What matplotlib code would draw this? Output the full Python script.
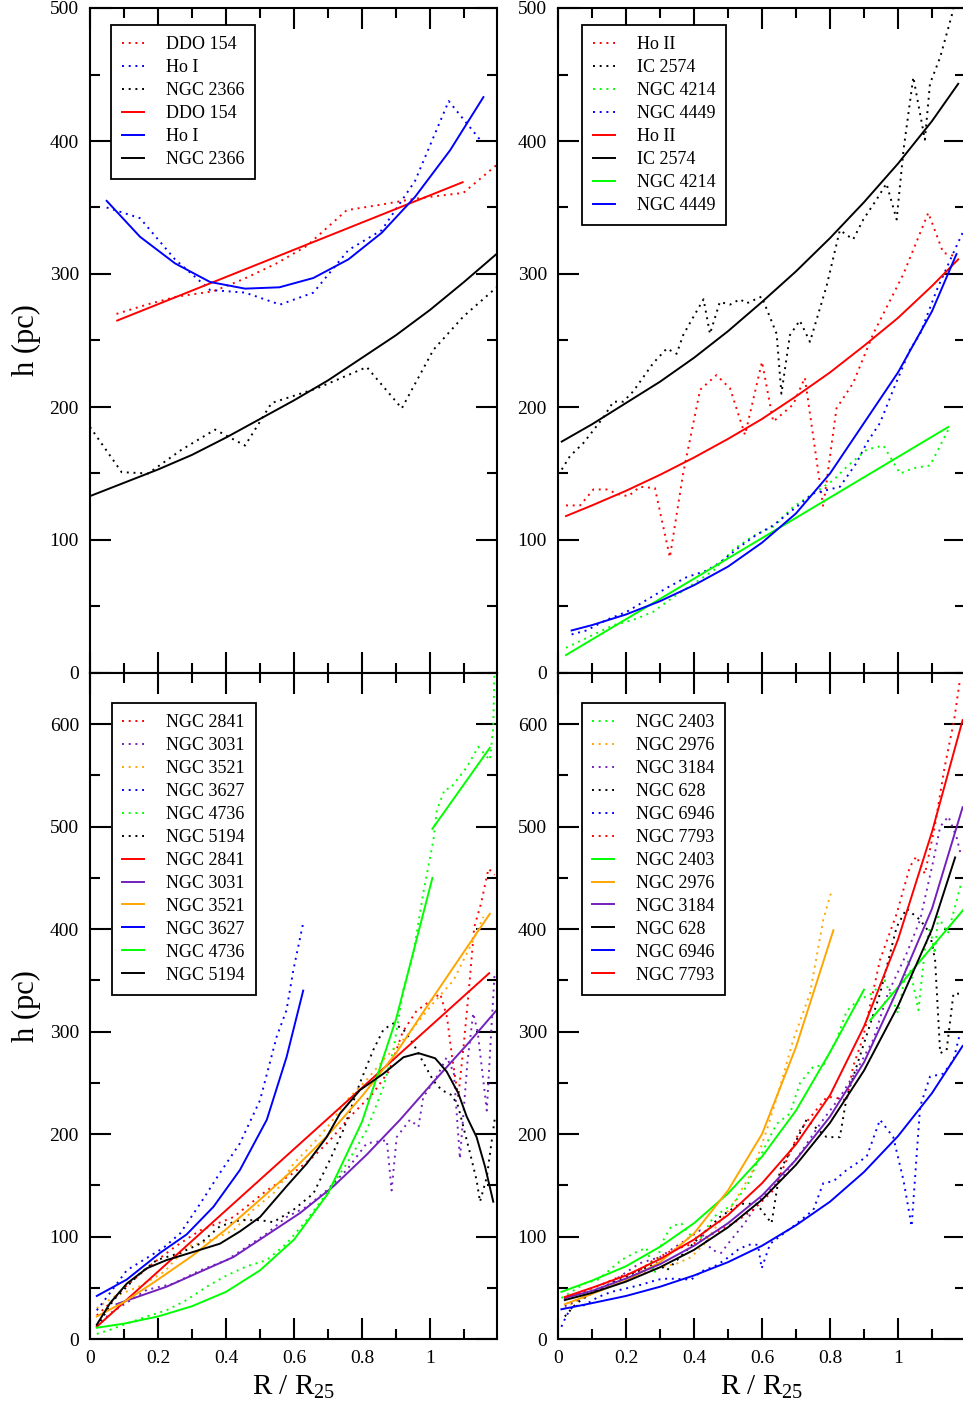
import matplotlib
matplotlib.use("Agg")
import matplotlib.pyplot as plt
from matplotlib.ticker import MultipleLocator, FuncFormatter
from matplotlib.lines import Line2D

plt.rcParams['font.family'] = ['Liberation Serif', 'DejaVu Serif']
plt.rcParams['mathtext.fontset'] = 'custom'
plt.rcParams['mathtext.rm'] = 'Liberation Serif'
plt.rcParams['mathtext.it'] = 'Liberation Serif:italic'

# ---------------- colours ----------------
RED = '#ff0000'
BLUE = '#0000ff'
GREEN = '#00ff00'
BLACK = '#000000'
ORANGE = '#ffa500'
PURPLE = '#7221bc'

# ---------------- panel (a): dwarfs ----------------
ddo154_x = [0.078, 0.167, 0.255, 0.363, 0.45, 0.549, 0.637, 0.755, 0.853, 0.941, 1.0, 1.098, 1.196]
ddo154_h = [270, 277, 283, 287, 296, 308, 321, 348, 352, 356, 358, 361, 382]
ddo154_fit_x = [0.08, 1.096]
ddo154_fit_h = [265, 369]

hoI_x = [0.049, 0.147, 0.25, 0.353, 0.456, 0.559, 0.657, 0.76, 0.858, 0.956, 1.055, 1.147]
hoI_h = [350, 342, 311, 288, 286, 277, 286, 318, 333, 370, 430, 401]
hoI_fit_x = [0.049, 0.147, 0.25, 0.353, 0.456, 0.557, 0.657, 0.76, 0.858, 0.956, 1.059, 1.157]
hoI_fit_h = [355, 328, 308, 294, 289, 290, 297, 311, 331, 358, 393, 433]

n2366_x = [0.0, 0.093, 0.171, 0.27, 0.368, 0.456, 0.534, 0.667, 0.814, 0.917, 1.01, 1.098, 1.196]
n2366_h = [185, 151, 150, 168, 183, 171, 203, 214, 230, 199, 243, 268, 290]
n2366_fit_x = [0.0, 0.1, 0.2, 0.3, 0.4, 0.5, 0.6, 0.7, 0.8, 0.9, 1.0, 1.1, 1.2]
n2366_fit_h = [133, 143, 153, 164, 177, 191, 205, 220, 237, 254, 273, 294, 316]

# ---------------- panel (b): dwarfs ----------------
hoII_x = [0.0235, 0.065, 0.104, 0.143, 0.182, 0.207, 0.241, 0.285, 0.329, 0.368, 0.418, 0.466,
          0.506, 0.55, 0.6, 0.633, 0.692, 0.726, 0.78, 0.819, 0.868, 0.927, 1.016, 1.089, 1.133, 1.173]
hoII_h = [126, 126, 138, 138, 134, 133, 140, 139, 87, 150, 213, 224,
          214, 179, 234, 189, 202, 222, 125, 199, 218, 255, 300, 346, 316, 313]
hoII_fit_x = [0.0235, 0.1, 0.2, 0.3, 0.4, 0.5, 0.6, 0.7, 0.8, 0.9, 1.0, 1.1, 1.177]
hoII_fit_h = [118, 126, 137, 149, 162, 176, 191, 208, 226, 246, 267, 291, 311]

ic2574_x = [0.011, 0.035, 0.075, 0.133, 0.163, 0.192, 0.222, 0.28, 0.32, 0.349, 0.368, 0.392, 0.428,
            0.447, 0.476, 0.506, 0.535, 0.555, 0.599, 0.643, 0.657, 0.682, 0.711, 0.741, 0.79, 0.829,
            0.868, 0.898, 0.937, 0.966, 0.996, 1.016, 1.045, 1.079, 1.094, 1.124, 1.163]
ic2574_h = [153, 163, 173, 192, 204, 204, 212, 233, 244, 240, 254, 265, 281,
            255, 279, 277, 281, 278, 283, 255, 210, 254, 265, 249, 291, 333,
            326, 341, 356, 368, 341, 393, 448, 401, 443, 463, 499]
ic2574_fit_x = [0.011, 0.1, 0.2, 0.3, 0.4, 0.5, 0.6, 0.7, 0.8, 0.9, 1.0, 1.1, 1.177]
ic2574_fit_h = [174, 187, 203, 219, 237, 257, 279, 302, 327, 354, 383, 415, 443]

n4214_x = [0.0235, 0.065, 0.114, 0.163, 0.222, 0.28, 0.339, 0.398, 0.457, 0.516, 0.574, 0.633,
           0.692, 0.751, 0.81, 0.849, 0.908, 0.957, 1.006, 1.045, 1.094, 1.148]
n4214_h = [19, 24, 30, 36, 40, 46, 57, 67, 77, 93, 103, 110,
           125, 135, 145, 155, 168, 171, 150, 154, 156, 183]
n4214_fit_x = [0.0235, 1.148]
n4214_fit_h = [13.5, 185]

n4449_x = [0.04, 0.084, 0.143, 0.202, 0.261, 0.32, 0.378, 0.437, 0.476, 0.535, 0.584, 0.633,
           0.692, 0.751, 0.829, 0.878, 0.908, 0.947, 0.986, 1.035, 1.065, 1.114, 1.163, 1.19]
n4449_h = [29, 32, 40, 46, 55, 64, 72, 77, 83, 95, 104, 111,
           123, 135, 140, 158, 173, 188, 213, 243, 255, 288, 316, 331]
n4449_fit_x = [0.04, 0.1, 0.2, 0.3, 0.4, 0.5, 0.6, 0.7, 0.8, 0.9, 1.0, 1.1, 1.172]
n4449_fit_h = [32, 36, 44, 54, 66, 80, 98, 120, 150, 188, 226, 272, 315]

# ---------------- panel (c): spirals ----------------
n2841_x = [0.02, 0.059, 0.1, 0.186, 0.25, 0.324, 0.422, 0.52, 0.598, 0.657, 0.706, 0.765, 0.833,
           0.88, 0.92, 0.96, 1.0, 1.03, 1.05, 1.065, 1.083, 1.1, 1.116, 1.13, 1.15, 1.172, 1.19]
n2841_h = [23, 35, 50, 74, 90, 106, 119, 145, 162, 178, 194, 217, 240,
           262, 300, 320, 330, 337, 314, 275, 236, 290, 347, 402, 425, 459, 453]
n2841_fit_x = [0.02, 1.174]
n2841_fit_h = [12, 357]

n3031_x = [0.02, 0.059, 0.167, 0.245, 0.324, 0.402, 0.461, 0.52, 0.578, 0.637, 0.696, 0.755, 0.814,
           0.873, 0.887, 0.902, 0.941, 0.966, 0.98, 1.02, 1.049, 1.07, 1.088, 1.11, 1.127, 1.14,
           1.167, 1.18, 1.19]
n3031_h = [12, 25, 48, 54, 67, 77, 90, 103, 119, 129, 145, 165, 191,
           194, 145, 197, 214, 207, 236, 256, 275, 260, 176, 270, 318, 300,
           223, 300, 357]
n3031_fit_x = [0.078, 0.225, 0.422, 0.618, 0.716, 0.814, 0.912, 1.01, 1.108, 1.196]
n3031_fit_h = [34, 51, 80, 123, 149, 180, 214, 251, 287, 321]

n3521_x = [0.02, 0.069, 0.15, 0.22, 0.284, 0.35, 0.422, 0.48, 0.549, 0.598, 0.657, 0.706, 0.755,
           0.814, 0.87, 0.93, 0.961, 1.01, 1.069, 1.127, 1.157]
n3521_h = [30, 41, 52, 66, 90, 96, 106, 126, 145, 171, 191, 210, 233,
           253, 275, 295, 308, 328, 350, 389, 412]
n3521_fit_x = [0.02, 0.1, 0.2, 0.3, 0.4, 0.5, 0.6, 0.7, 0.8, 0.9, 1.0, 1.1, 1.176]
n3521_fit_h = [22, 36, 58, 81, 107, 136, 166, 199, 237, 279, 329, 378, 415]

n3627_x = [0.02, 0.059, 0.108, 0.157, 0.216, 0.265, 0.324, 0.382, 0.441, 0.5, 0.549, 0.578, 0.598, 0.627]
n3627_h = [28, 45, 67, 77, 89, 103, 132, 162, 191, 233, 295, 321, 360, 406]
n3627_fit_x = [0.02, 0.108, 0.206, 0.284, 0.363, 0.441, 0.52, 0.578, 0.627]
n3627_fit_h = [42, 58, 84, 102, 129, 165, 214, 275, 340]

n4736_x = [0.02, 0.059, 0.108, 0.167, 0.225, 0.284, 0.343, 0.402, 0.461, 0.52, 0.578, 0.637,
           0.696, 0.755, 0.814, 0.863, 0.892, 0.921, 0.951, 0.98, 1.01, 1.02, 1.044, 1.059,
           1.108, 1.142, 1.176, 1.186, 1.19]
n4736_h = [5, 9, 15, 22, 28, 38, 51, 62, 71, 77, 93, 116,
           142, 171, 204, 246, 282, 340, 376, 435, 487, 516, 537, 537,
           558, 578, 565, 597, 660]
n4736_fit_x = [0.02, 0.1, 0.2, 0.3, 0.4, 0.5, 0.6, 0.7, 0.8, 0.9, 1.007]
n4736_fit_h = [11, 15, 22, 32, 46, 67, 97, 142, 212, 312, 450]
n4736_outer_x = [1.007, 1.176]
n4736_outer_h = [498, 577]

n5194_x = [0.02, 0.069, 0.147, 0.196, 0.265, 0.324, 0.382, 0.441, 0.5, 0.539, 0.598, 0.657, 0.706,
           0.745, 0.794, 0.833, 0.863, 0.892, 0.922, 0.951, 0.98, 1.01, 1.034, 1.064, 1.083,
           1.098, 1.118, 1.137, 1.147, 1.167, 1.19]
n5194_h = [12, 38, 64, 77, 84, 93, 110, 116, 116, 114, 126, 142, 175,
           204, 250, 282, 302, 308, 302, 288, 270, 252, 243, 238, 227,
           207, 181, 155, 134, 158, 214]
n5194_fit_x = [0.02, 0.059, 0.108, 0.167, 0.225, 0.304, 0.382, 0.441, 0.5, 0.578, 0.637, 0.696,
               0.735, 0.794, 0.863, 0.922, 0.966, 1.015, 1.049, 1.083, 1.108, 1.137, 1.162, 1.186]
n5194_fit_h = [14, 35, 54, 69, 77, 85, 93, 105, 119, 149, 171, 197,
               220, 243, 259, 275, 279, 274, 261, 240, 217, 197, 168, 134]

# ---------------- panel (d): spirals ----------------
n2403_x = [0.01, 0.078, 0.118, 0.147, 0.186, 0.225, 0.26, 0.284, 0.304, 0.333, 0.363, 0.382, 0.418,
           0.457, 0.516, 0.555, 0.584, 0.614, 0.643, 0.682, 0.712, 0.751, 0.78, 0.819, 0.849, 0.88,
           0.922, 0.961, 1.0, 1.03, 1.06, 1.079, 1.094, 1.108, 1.118, 1.147, 1.186]
n2403_h = [40, 54, 58, 66, 77, 84, 89, 64, 93, 110, 113, 103, 97,
           119, 132, 149, 171, 191, 210, 220, 250, 266, 267, 292, 320, 330,
           337, 350, 318, 370, 321, 380, 402, 376, 412, 396, 445]
n2403_fit_x = [0.01, 0.1, 0.2, 0.3, 0.4, 0.5, 0.6, 0.7, 0.8, 0.9]
n2403_fit_h = [46, 57, 71, 90, 113, 142, 178, 223, 280, 341]
n2403_outer_x = [0.918, 1.2]
n2403_outer_h = [311, 422]

n2976_x = [0.02, 0.059, 0.12, 0.196, 0.261, 0.314, 0.353, 0.392, 0.431, 0.457, 0.516, 0.574,
           0.614, 0.653, 0.692, 0.741, 0.78, 0.805]
n2976_h = [30, 38, 48, 58, 66, 71, 74, 80, 93, 106, 132, 165,
           204, 246, 292, 337, 409, 438]
n2976_fit_x = [0.02, 0.1, 0.2, 0.3, 0.4, 0.5, 0.6, 0.7, 0.81]
n2976_fit_h = [34, 44, 57, 75, 103, 145, 200, 285, 399]

n3184_x = [0.02, 0.124, 0.182, 0.241, 0.3, 0.359, 0.418, 0.451, 0.48, 0.5, 0.549, 0.594, 0.653,
           0.712, 0.771, 0.829, 0.878, 0.927, 0.97, 1.025, 1.065, 1.104, 1.124, 1.148, 1.172, 1.186]
n3184_h = [32, 48, 61, 74, 80, 93, 106, 87, 84, 93, 113, 136, 155,
           181, 210, 236, 262, 292, 337, 376, 409, 467, 500, 510, 490, 471]
n3184_fit_x = [0.02, 0.1, 0.2, 0.3, 0.4, 0.5, 0.6, 0.7, 0.8, 0.9, 1.0, 1.1, 1.19]
n3184_fit_h = [40, 47, 59, 73, 91, 113, 140, 175, 217, 270, 342, 420, 519]

n628_x = [0.02, 0.055, 0.114, 0.182, 0.241, 0.29, 0.32, 0.359, 0.418, 0.476, 0.535, 0.584, 0.628,
          0.653, 0.692, 0.731, 0.79, 0.829, 0.849, 0.878, 0.947, 0.996, 1.025, 1.065, 1.094, 1.109,
          1.124, 1.143, 1.163, 1.182]
n628_h = [22, 35, 48, 58, 67, 74, 67, 80, 100, 119, 132, 132, 113,
          165, 188, 214, 197, 197, 236, 266, 337, 402, 420, 409, 396, 370,
          279, 282, 337, 337]
n628_fit_x = [0.02, 0.1, 0.2, 0.3, 0.4, 0.5, 0.6, 0.7, 0.8, 0.9, 1.0, 1.1, 1.168]
n628_fit_h = [38, 45, 56, 70, 87, 109, 136, 170, 211, 262, 325, 400, 470]

n6946_x = [0.01, 0.025, 0.044, 0.078, 0.118, 0.157, 0.196, 0.245, 0.294, 0.324, 0.392, 0.422, 0.461,
           0.49, 0.529, 0.559, 0.588, 0.599, 0.624, 0.692, 0.751, 0.78, 0.81, 0.849, 0.908, 0.947,
           0.986, 1.016, 1.04, 1.065, 1.094, 1.133, 1.163, 1.182]
n6946_h = [12, 23, 32, 33, 41, 46, 49, 53, 58, 59, 58, 66, 71,
           77, 87, 92, 92, 69, 93, 110, 126, 152, 154, 165, 178, 214,
           197, 155, 110, 227, 256, 259, 272, 298]
n6946_fit_x = [0.01, 0.1, 0.2, 0.3, 0.4, 0.5, 0.6, 0.7, 0.8, 0.9, 1.0, 1.1, 1.19]
n6946_fit_h = [29, 35, 42, 51, 62, 75, 91, 111, 134, 163, 198, 240, 286]

n7793_x = [0.02, 0.114, 0.182, 0.241, 0.28, 0.339, 0.398, 0.457, 0.516, 0.574, 0.633, 0.712, 0.79,
           0.81, 0.849, 0.868, 0.898, 0.947, 0.996, 1.035, 1.054, 1.079, 1.108, 1.137, 1.165, 1.182]
n7793_h = [40, 51, 61, 67, 77, 87, 93, 103, 113, 126, 145, 204, 236,
           236, 233, 266, 295, 370, 415, 461, 471, 454, 500, 558, 604, 643]
n7793_fit_x = [0.02, 0.1, 0.2, 0.3, 0.4, 0.5, 0.6, 0.7, 0.8, 0.9, 1.0, 1.1, 1.19]
n7793_fit_h = [41, 50, 62, 78, 97, 121, 152, 190, 238, 305, 390, 495, 604]

# ---------------- drawing ----------------
W, H = 963, 1414
fig = plt.figure(figsize=(W / 100, H / 100), dpi=100)

LW = 1.4
DOT = (0, (1, 2.45))


def add_panel(l, t, r, b):
    return fig.add_axes([l / W, 1 - b / H, (r - l) / W, (b - t) / H])


def style_axis(ax, ymax, ymajor_top, show_xlabels):
    ax.set_xlim(0, 1.197)
    ax.set_ylim(0, ymax)
    ax.xaxis.set_major_locator(MultipleLocator(0.2))
    ax.xaxis.set_minor_locator(MultipleLocator(0.1))
    ax.yaxis.set_major_locator(MultipleLocator(100))
    ax.yaxis.set_minor_locator(MultipleLocator(50))
    ax.xaxis.set_major_formatter(FuncFormatter(lambda v, p: '%g' % round(v, 3)))
    ax.yaxis.set_major_formatter(FuncFormatter(
        lambda v, p: '%d' % v if v <= ymajor_top + 1e-6 else ''))
    ax.tick_params(which='both', direction='in', top=True, right=True, width=1.5,
                   labelsize=14, pad=8)
    ax.tick_params(which='major', length=15)
    ax.tick_params(which='minor', length=7.5)
    if not show_xlabels:
        ax.tick_params(axis='x', labelbottom=False)
    for s in ax.spines.values():
        s.set_linewidth(1.5)


def draw(ax, series, fits):
    for x, h, c in series:
        ax.plot(x, h, color=c, lw=LW, linestyle=DOT)
    for x, h, c in fits:
        ax.plot(x, h, color=c, lw=LW, linestyle='-')


def legend(ax, names, colors, anchor):
    handles = [Line2D([], [], color=c, lw=LW, linestyle=DOT) for c in colors]
    handles += [Line2D([], [], color=c, lw=LW, linestyle='-') for c in colors]
    leg = ax.legend(handles, names + names, loc='upper left', bbox_to_anchor=anchor,
                    borderaxespad=0, fontsize=13, handlelength=1.22, handletextpad=1.2,
                    borderpad=0.6, labelspacing=0.33, fancybox=False, framealpha=1,
                    edgecolor='black')
    leg.get_frame().set_linewidth(1.3)


# panel positions in pixels (left, top, right, bottom)
ax_a = add_panel(90, 8, 497, 673)
ax_b = add_panel(558, 8, 965, 673)
ax_c = add_panel(90, 673, 497, 1339)
ax_d = add_panel(558, 673, 965, 1339)

style_axis(ax_a, 500, 500, False)
style_axis(ax_b, 500, 500, False)
style_axis(ax_c, 650, 600, True)
style_axis(ax_d, 650, 600, True)

draw(ax_a,
     [(ddo154_x, ddo154_h, RED), (hoI_x, hoI_h, BLUE), (n2366_x, n2366_h, BLACK)],
     [(ddo154_fit_x, ddo154_fit_h, RED), (hoI_fit_x, hoI_fit_h, BLUE),
      (n2366_fit_x, n2366_fit_h, BLACK)])
legend(ax_a, ['DDO 154', 'Ho I', 'NGC 2366'], [RED, BLUE, BLACK], (0.052, 0.974))

draw(ax_b,
     [(hoII_x, hoII_h, RED), (ic2574_x, ic2574_h, BLACK), (n4214_x, n4214_h, GREEN),
      (n4449_x, n4449_h, BLUE)],
     [(hoII_fit_x, hoII_fit_h, RED), (ic2574_fit_x, ic2574_fit_h, BLACK),
      (n4214_fit_x, n4214_fit_h, GREEN), (n4449_fit_x, n4449_fit_h, BLUE)])
legend(ax_b, ['Ho II', 'IC 2574', 'NGC 4214', 'NGC 4449'], [RED, BLACK, GREEN, BLUE],
       (0.059, 0.974))

draw(ax_c,
     [(n2841_x, n2841_h, RED), (n3031_x, n3031_h, PURPLE), (n3521_x, n3521_h, ORANGE),
      (n3627_x, n3627_h, BLUE), (n4736_x, n4736_h, GREEN), (n5194_x, n5194_h, BLACK)],
     [(n2841_fit_x, n2841_fit_h, RED), (n3031_fit_x, n3031_fit_h, PURPLE),
      (n3521_fit_x, n3521_fit_h, ORANGE), (n3627_fit_x, n3627_fit_h, BLUE),
      (n4736_fit_x, n4736_fit_h, GREEN), (n4736_outer_x, n4736_outer_h, GREEN),
      (n5194_fit_x, n5194_fit_h, BLACK)])
legend(ax_c, ['NGC 2841', 'NGC 3031', 'NGC 3521', 'NGC 3627', 'NGC 4736', 'NGC 5194'],
       [RED, PURPLE, ORANGE, BLUE, GREEN, BLACK], (0.053, 0.9545))

draw(ax_d,
     [(n2403_x, n2403_h, GREEN), (n2976_x, n2976_h, ORANGE), (n3184_x, n3184_h, PURPLE),
      (n628_x, n628_h, BLACK), (n6946_x, n6946_h, BLUE), (n7793_x, n7793_h, RED)],
     [(n2403_fit_x, n2403_fit_h, GREEN), (n2403_outer_x, n2403_outer_h, GREEN),
      (n2976_fit_x, n2976_fit_h, ORANGE), (n3184_fit_x, n3184_fit_h, PURPLE),
      (n628_fit_x, n628_fit_h, BLACK), (n6946_fit_x, n6946_fit_h, BLUE),
      (n7793_fit_x, n7793_fit_h, RED)])
legend(ax_d, ['NGC 2403', 'NGC 2976', 'NGC 3184', 'NGC 628', 'NGC 6946', 'NGC 7793'],
       [GREEN, ORANGE, PURPLE, BLACK, BLUE, RED], (0.058, 0.9545))

# axis titles
for yc in (340, 1006):
    fig.text(26 / W, 1 - yc / H, 'h (pc)', rotation=90, ha='center', va='center', fontsize=22)
for xc in (293.5, 761.5):
    fig.text(xc / W, 1 - 1395 / H, r'R / R$_{\mathrm{25}}$', ha='center', va='baseline',
             fontsize=21)

fig.savefig('out.png', dpi=100)
